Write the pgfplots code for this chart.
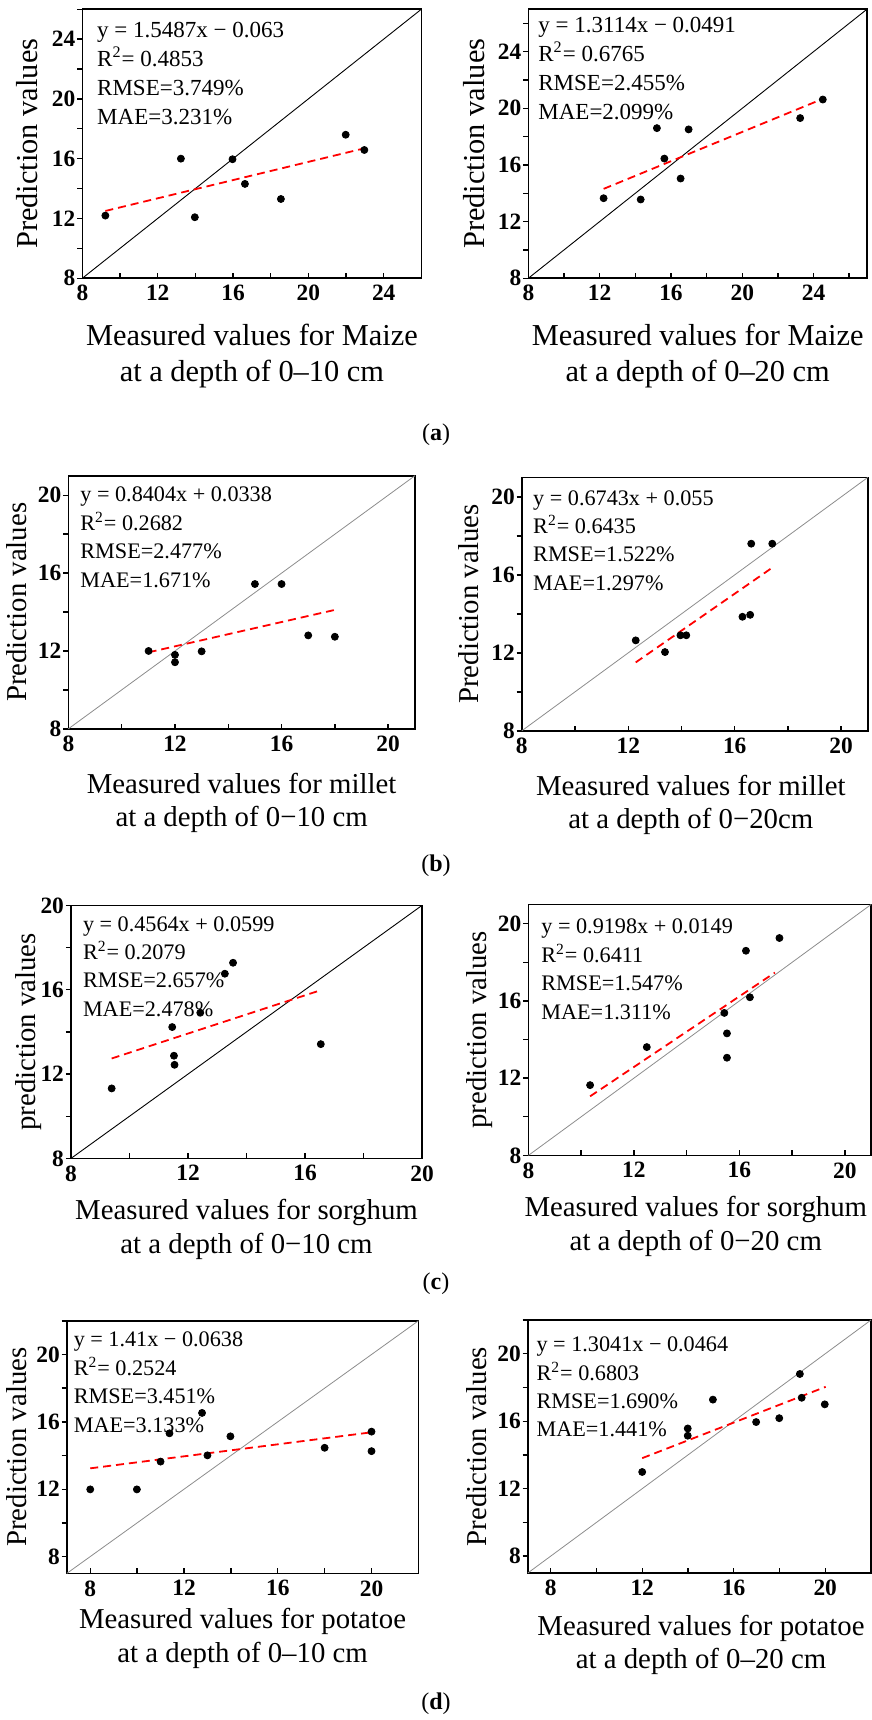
\documentclass[border=0pt]{standalone}
\usepackage{fontspec}
\setmainfont{Liberation Serif}
\usepackage{pgfplots}
\pgfplotsset{compat=1.18}
\newcommand{\eqA}{\fontsize{11.5}{14.5}\selectfont}
\newcommand{\eqB}{\fontsize{11.1}{14.2}\selectfont}
\newcommand{\labA}{\fontsize{15.2}{18}\selectfont}
\newcommand{\labB}{\fontsize{14.4}{17}\selectfont}
\pgfplotsset{
 panel/.style={scale only axis, anchor=north west, clip=false,
  axis line style={black, line width=0.9pt},
  tick style={black, line width=0.7pt},
  major tick length=2.6pt, minor tick length=2.6pt,
  tick align=inside,
  xtick pos=bottom, ytick pos=left,
  ytick style={xshift=-2.6pt},
  minor tick num=1,
  xtick distance=4, ytick distance=4,
  ticklabel style={font=\fontsize{11.7}{12}\selectfont\bfseries},
  /pgf/number format/assume math mode=true,
 },
 pts/.style={only marks, mark=*, mark size=1.75pt, black},
 fit/.style={red, line width=0.9pt, dash pattern=on 4pt off 2.5pt},
 diag/.style={black, line width=0.45pt},
 diagg/.style={black!45, line width=0.4pt},
}
\tikzset{eqa/.style={anchor=north west, align=left, inner sep=0pt, font=\eqA},
         eqb/.style={anchor=north west, align=left, inner sep=0pt, font=\eqB}}
\begin{document}
\begin{tikzpicture}
\path[use as bounding box] (0,0) rectangle (436pt,-860pt);
% ---------- (a) left
\begin{axis}[panel, name=A1, at={(41.2pt,-4.6pt)}, width=169.5pt, height=134.5pt,
  xmin=8, xmax=26, ymin=8, ymax=26]
\addplot[diag] coordinates {(8,8) (26,26)};
\addplot[fit] coordinates {(9.22,12.50) (22.97,16.69)};
\addplot[pts] coordinates {(9.22,12.19) (13.23,16.0) (13.97,12.08) (15.97,15.96) (16.63,14.31) (18.54,13.30) (21.98,17.60) (22.97,16.58)};
\node[eqa, xshift=7.2pt, yshift=-6.2pt] at (rel axis cs:0,1) {y = 1.5487x − 0.063\\R\textsuperscript{2}= 0.4853\\RMSE=3.749\%\\MAE=3.231\%};
\end{axis}
% ---------- (a) right
\begin{axis}[panel, name=A2, at={(264.2pt,-4.6pt)}, width=169.3pt, height=134.5pt,
  xmin=8, xmax=27, ymin=8, ymax=27]
\addplot[diag] coordinates {(8,8) (27,27)};
\addplot[fit] coordinates {(12.22,14.31) (24.52,20.67)};
\addplot[pts] coordinates {(12.22,13.65) (14.30,13.56) (15.21,18.60) (15.63,16.45) (16.54,15.04) (16.99,18.51) (23.25,19.31) (24.52,20.62)};
\node[eqa, xshift=4.8pt, yshift=-3.7pt] at (rel axis cs:0,1) {y = 1.3114x − 0.0491\\R\textsuperscript{2}= 0.6765\\RMSE=2.455\%\\MAE=2.099\%};
\end{axis}
% ---------- (b) left
\begin{axis}[panel, name=B1, at={(34.2pt,-237.9pt)}, width=173.2pt, height=126.5pt,
  xmin=8, xmax=21, ymin=8, ymax=21]
\addplot[diagg] coordinates {(8,8) (21,21)};
\addplot[fit] coordinates {(11.01,11.93) (18.0,14.11)};
\addplot[pts] coordinates {(11.01,12.0) (12.0,11.80) (12.0,11.42) (13.0,11.98) (15.0,15.44) (16.0,15.44) (17.0,12.80) (18.0,12.73)};
\node[eqb, xshift=5.8pt, yshift=-5.5pt] at (rel axis cs:0,1) {y = 0.8404x + 0.0338\\R\textsuperscript{2}= 0.2682\\RMSE=2.477\%\\MAE=1.671\%};
\end{axis}
% ---------- (b) right
\begin{axis}[panel, name=B2, at={(260.9pt,-238.7pt)}, width=173.0pt, height=126.7pt,
  xmin=8, xmax=21, ymin=8, ymax=21]
\addplot[diagg] coordinates {(8,8) (21,21)};
\addplot[fit] coordinates {(12.28,11.51) (17.41,16.37)};
\addplot[pts] coordinates {(12.28,12.64) (13.38,12.04) (13.96,12.90) (14.18,12.90) (16.29,13.85) (16.58,13.95) (16.62,17.60) (17.41,17.60)};
\node[eqb, xshift=5.5pt, yshift=-6.3pt] at (rel axis cs:0,1) {y = 0.6743x + 0.055\\R\textsuperscript{2}= 0.6435\\RMSE=1.522\%\\MAE=1.297\%};
\end{axis}
% ---------- (c) left
\begin{axis}[panel, name=C1, at={(35.5pt,-452.7pt)}, width=175.5pt, height=126.5pt,
  xmin=8, xmax=20, ymin=8, ymax=20]
\addplot[diag] coordinates {(8,8) (20,20)};
\addplot[fit] coordinates {(9.39,12.74) (16.54,15.98)};
\addplot[pts] coordinates {(9.39,11.32) (11.46,14.23) (11.52,12.87) (11.54,12.44) (12.42,14.91) (13.26,16.76) (13.54,17.28) (16.54,13.42)};
\node[eqb, xshift=5.8pt, yshift=-5.3pt] at (rel axis cs:0,1) {y = 0.4564x + 0.0599\\R\textsuperscript{2}= 0.2079\\RMSE=2.657\%\\MAE=2.478\%};
\end{axis}
% ---------- (c) right
\begin{axis}[panel, name=C2, at={(264.2pt,-452.2pt)}, width=171.4pt, height=125.5pt,
  xmin=8, xmax=21, ymin=8, ymax=21]
\addplot[diagg] coordinates {(8,8) (21,21)};
\addplot[fit] coordinates {(10.34,11.06) (17.35,17.47)};
\addplot[pts] coordinates {(10.34,11.64) (12.49,13.61) (15.43,15.38) (15.53,14.32) (15.53,13.06) (16.25,18.60) (16.40,16.19) (17.52,19.26)};
\node[eqb, xshift=6.3pt, yshift=-7.2pt] at (rel axis cs:0,1) {y = 0.9198x + 0.0149\\R\textsuperscript{2}= 0.6411\\RMSE=1.547\%\\MAE=1.311\%};
\end{axis}
% ---------- (d) left
\begin{axis}[panel, name=D1, at={(33.4pt,-660.4pt)}, width=175.8pt, height=126.3pt,
  xmin=7, xmax=22, ymin=7, ymax=22]
\addplot[diagg] coordinates {(7,7) (22,22)};
\addplot[fit] coordinates {(8.0,13.24) (20.0,15.38)};
\addplot[pts] coordinates {(8.0,11.99) (9.99,11.99) (11.0,13.64) (11.38,15.32) (12.77,16.53) (13.0,14.01) (13.98,15.14) (18.0,14.46) (20.0,15.42) (20.0,14.26)};
\node[eqb, xshift=3.3pt, yshift=-5.5pt] at (rel axis cs:0,1) {y = 1.41x − 0.0638\\R\textsuperscript{2}= 0.2524\\RMSE=3.451\%\\MAE=3.133\%};
\end{axis}
% ---------- (d) right
\begin{axis}[panel, name=D2, at={(263.9pt,-660pt)}, width=171.6pt, height=126.5pt,
  xmin=7, xmax=22, ymin=7, ymax=22]
\addplot[diagg] coordinates {(7,7) (22,22)};
\addplot[fit] coordinates {(12.0,13.81) (20.02,18.04)};
\addplot[pts] coordinates {(12.0,12.99) (13.99,15.57) (13.99,15.14) (15.09,17.28) (16.98,15.95) (17.99,16.18) (18.89,18.80) (18.97,17.39) (19.98,17.0)};
\node[eqb, xshift=4.2pt, yshift=-8.3pt] at (rel axis cs:0,1) {y = 1.3041x − 0.0464\\R\textsuperscript{2}= 0.6803\\RMSE=1.690\%\\MAE=1.441\%};
\end{axis}
% ---------- axis labels, row a
\begin{scope}[every node/.style={font=\labA}]
\node[rotate=90] at ([xshift=-27.4pt]A1.west) {Prediction values};
\node[rotate=90] at ([xshift=-27.4pt]A2.west) {Prediction values};
\node[anchor=base] at ([yshift=-33.8pt]A1.south) {Measured values for Maize};
\node[anchor=base] at ([yshift=-51.7pt]A1.south) {at a depth of 0–10 cm};
\node[anchor=base] at ([yshift=-33.8pt]A2.south) {Measured values for Maize};
\node[anchor=base] at ([yshift=-51.7pt]A2.south) {at a depth of 0–20 cm};
\end{scope}
% ---------- axis labels, rows b-d
\begin{scope}[every node/.style={font=\labB}]
\node[rotate=90] at ([xshift=-25.8pt]B1.west) {Prediction values};
\node[rotate=90] at ([xshift=-26.6pt]B2.west) {Prediction values};
\node[rotate=90] at ([xshift=-21pt]C1.west) {prediction values};
\node[rotate=90] at ([xshift=-24.2pt]C2.west) {prediction values};
\node[rotate=90] at ([xshift=-25pt]D1.west) {Prediction values};
\node[rotate=90] at ([xshift=-25.4pt]D2.west) {Prediction values};
\node[anchor=base] at ([yshift=-32.2pt]B1.south) {Measured values for millet};
\node[anchor=base] at ([yshift=-49pt]B1.south) {at a depth of 0−10 cm};
\node[anchor=base] at ([yshift=-32.2pt, xshift=-2pt]B2.south) {Measured values for millet};
\node[anchor=base] at ([yshift=-49pt, xshift=-2pt]B2.south) {at a depth of 0−20cm};
\node[anchor=base] at ([yshift=-30.5pt]C1.south) {Measured values for sorghum};
\node[anchor=base] at ([yshift=-47.3pt]C1.south) {at a depth of 0−10 cm};
\node[anchor=base] at ([yshift=-30.5pt, xshift=-2pt]C2.south) {Measured values for sorghum};
\node[anchor=base] at ([yshift=-47.3pt, xshift=-2pt]C2.south) {at a depth of 0−20 cm};
\node[anchor=base] at ([yshift=-27.5pt]D1.south) {Measured values for potatoe};
\node[anchor=base] at ([yshift=-44.3pt]D1.south) {at a depth of 0–10 cm};
\node[anchor=base] at ([yshift=-31pt, xshift=0.8pt]D2.south) {Measured values for potatoe};
\node[anchor=base] at ([yshift=-47.8pt, xshift=0.8pt]D2.south) {at a depth of 0–20 cm};
\end{scope}
\begin{scope}[every node/.style={font=\fontsize{12}{14}\selectfont}]
\node at (218pt,-217.5pt) {(\textbf{a})};
\node at (218pt,-433pt) {(\textbf{b})};
\node at (218pt,-642pt) {(\textbf{c})};
\node at (218pt,-852pt) {(\textbf{d})};
\end{scope}
\end{tikzpicture}
\end{document}
